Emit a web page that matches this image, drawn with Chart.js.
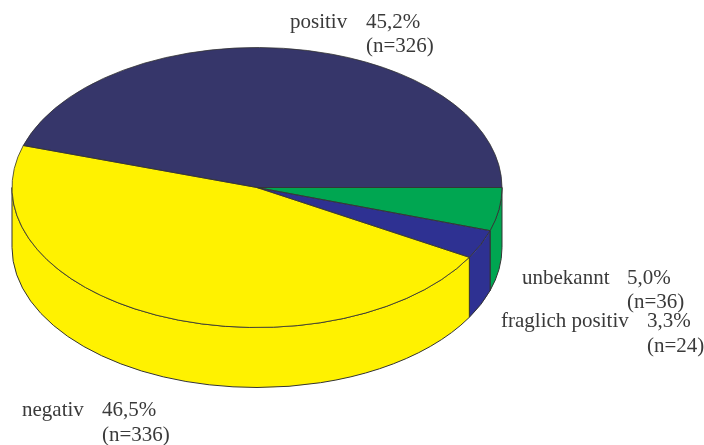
<!DOCTYPE html>
<html>
<head>
<meta charset="utf-8">
<script src="https://cdn.jsdelivr.net/npm/chart.js@4"></script>
<style>
    html, body { margin: 0; padding: 0; background: #fff; }
    canvas { display: block; }
</style>
</head>
<body>
<canvas id="pieChart" width="704" height="445"></canvas>
<script>
// Данные, по часовой стрелке от правого края
const categories = ['unbekannt', 'fraglich positiv', 'negativ', 'positiv'];
const counts = [36, 24, 336, 326];
const percentLabels = ['5,0%', '3,3%', '46,5%', '45,2%'];
const countLabels = ['(n=36)', '(n=24)', '(n=336)', '(n=326)'];
const colors = ['#00a651', '#2e3192', '#fff200', '#36366a'];

// Положение подписей: [x названия, x процента, y первой строки, y второй]
const labelPos = [
    [522, 627, 284, 308],
    [501, 647, 327, 352],
    [22, 102, 416, 441],
    [290, 366, 28, 52]
];

// Геометрия псевдо-3D
const CX = 257, CY = 187.5, RX = 245, RY = 140, DEPTH = 60;
const LINE = '#333';

const pie3d = {
    id: 'pie3d',
    beforeDatasetDraw(chart, args) {
        const c = chart.ctx;
        const arcs = args.meta.data;

        // Боковая стенка видна только в нижней половине эллипса
        arcs.forEach((arc, i) => {
            const a = Math.max(arc.startAngle, 0);
            const b = Math.min(arc.endAngle, Math.PI);
            if (a >= b) return;
            c.beginPath();
            c.ellipse(CX, CY, RX, RY, 0, a, b);
            c.ellipse(CX, CY + DEPTH, RX, RY, 0, b, a, true);
            c.closePath();
            c.fillStyle = colors[i];
            c.fill();
            c.strokeStyle = LINE;
            c.lineWidth = 1;
            c.stroke();
        });

        // Верхняя грань: сама библиотека рисует дуги, сжатые в эллипс
        const r = arcs[0].outerRadius;
        c.save();
        c.translate(CX, CY);
        c.scale(RX / r, RY / r);
        c.translate(-arcs[0].x, -arcs[0].y);
    },
    afterDatasetDraw(chart, args) {
        const c = chart.ctx;
        c.restore();

        // Контуры секторов
        args.meta.data.forEach(arc => {
            c.beginPath();
            c.moveTo(CX, CY);
            c.ellipse(CX, CY, RX, RY, 0, arc.startAngle, arc.endAngle);
            c.closePath();
            c.strokeStyle = LINE;
            c.lineWidth = 0.8;
            c.stroke();
        });

        // Подписи
        c.fillStyle = '#3a3a3a';
        c.font = '21px "Liberation Serif"';
        c.textBaseline = 'alphabetic';
        categories.forEach((name, i) => {
            const p = labelPos[i];
            c.fillText(name, p[0], p[2]);
            c.fillText(percentLabels[i], p[1], p[2]);
            c.fillText(countLabels[i], p[1], p[3]);
        });
    }
};

new Chart(document.getElementById('pieChart'), {
    type: 'pie',
    data: {
        labels: categories,
        datasets: [{
            data: counts,
            backgroundColor: colors,
            borderWidth: 0,
            clip: false
        }]
    },
    options: {
        responsive: false,
        animation: false,
        rotation: 90,
        plugins: { legend: { display: false }, tooltip: { enabled: false } }
    },
    plugins: [pie3d]
});
</script>
</body>
</html>
